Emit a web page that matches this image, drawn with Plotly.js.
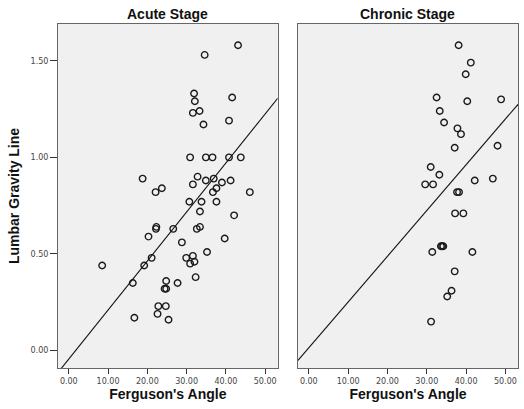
<!DOCTYPE html>
<html>
<head>
<meta charset="utf-8">
<script src="https://cdn.plot.ly/plotly-3.0.1.min.js"></script>
<style>html,body{margin:0;padding:0;background:#fff;}#chart{width:524px;height:409px;}</style>
</head>
<body>
<div id="chart"></div>
<script>
// Acute stage: Ferguson's angle (x) vs lumbar gravity line (y)
var acuteAngle = [43.1,34.6,31.9,32.1,41.6,31.6,33.3,34.3,40.8,30.9,34.9,36.6,40.8,43.8,18.8,32.8,31.6,34.9,36.9,39.0,41.2,22.1,23.7,46.1,37.6,36.7,30.7,33.8,37.6,33.4,42.1,22.3,22.2,26.6,32.6,33.4,20.3,28.8,39.7,35.2,21.1,29.9,31.6,30.9,32.0,8.5,19.2,32.3,16.3,24.8,27.7,24.4,24.8,22.8,24.7,22.6,16.7,25.4];
var acuteLGL   = [1.58,1.53,1.33,1.29,1.31,1.23,1.24,1.17,1.19,1.00,1.00,1.00,1.00,1.00,0.89,0.90,0.86,0.88,0.89,0.87,0.88,0.82,0.84,0.82,0.84,0.82,0.77,0.77,0.77,0.72,0.70,0.64,0.63,0.63,0.63,0.64,0.59,0.56,0.58,0.51,0.48,0.48,0.49,0.45,0.46,0.44,0.44,0.38,0.35,0.36,0.35,0.32,0.32,0.23,0.23,0.19,0.17,0.16];
// Chronic stage
var chronicAngle = [38.1,41.2,39.9,32.5,40.3,48.9,33.3,34.4,37.8,38.7,37.1,48.0,31.0,33.2,29.6,31.6,42.2,46.8,37.7,38.2,37.2,39.3,33.6,33.9,34.2,31.4,41.6,37.1,36.3,35.2,31.1];
var chronicLGL   = [1.58,1.49,1.43,1.31,1.29,1.30,1.24,1.18,1.15,1.12,1.05,1.06,0.95,0.91,0.86,0.86,0.88,0.89,0.82,0.82,0.71,0.71,0.54,0.54,0.54,0.51,0.51,0.41,0.31,0.28,0.15];
// Fit lines
var acuteIntercept = -0.0436, acuteSlope = 0.02536;
var chronicIntercept = 0.0143, chronicSlope = 0.02368;
var xTicks = [0,10,20,30,40,50];
var xTickText = ["0.00","10.00","20.00","30.00","40.00","50.00"];
var yTicks = [0,0.5,1.0,1.5];
var yTickText = ["0.00","0.50","1.00","1.50"];
var panelTitles = ["Acute Stage","Chronic Stage"];
var xTitle = "Ferguson's Angle";
var yTitle = "Lumbar Gravity Line";
var xRange = [-2.75, 53.2];
var yRange = [-0.09, 1.69];

function fitLine(a, b) {
  return {x: [xRange[0], xRange[1]], y: [a + b*xRange[0], a + b*xRange[1]]};
}
var la = fitLine(acuteIntercept, acuteSlope);
var lc = fitLine(chronicIntercept, chronicSlope);

var markerStyle = {symbol: 'circle-open', size: 6.5, color: '#1a1a1a', line: {width: 1.4, color: '#1a1a1a'}};
var traces = [
  {x: acuteAngle, y: acuteLGL, type: 'scatter', mode: 'markers', marker: markerStyle, xaxis: 'x', yaxis: 'y', hoverinfo: 'none'},
  {x: la.x, y: la.y, type: 'scatter', mode: 'lines', line: {color: '#111', width: 1.1}, xaxis: 'x', yaxis: 'y', hoverinfo: 'none'},
  {x: chronicAngle, y: chronicLGL, type: 'scatter', mode: 'markers', marker: markerStyle, xaxis: 'x2', yaxis: 'y2', hoverinfo: 'none'},
  {x: lc.x, y: lc.y, type: 'scatter', mode: 'lines', line: {color: '#111', width: 1.1}, xaxis: 'x2', yaxis: 'y2', hoverinfo: 'none'}
];

var tickFont = {family: 'DejaVu Sans, sans-serif', size: 8, color: '#444'};
var titleFont = {family: 'Liberation Sans, Arial, sans-serif', size: 14, color: '#111', weight: 'bold'};
function xAxis(domain) {
  return {domain: domain, range: xRange, tickvals: xTicks, ticktext: xTickText, ticks: 'outside', ticklen: 5,
    tickcolor: '#333', tickfont: tickFont, showgrid: false, zeroline: false, showline: true, mirror: true,
    linecolor: '#666', linewidth: 1, fixedrange: true,
    title: {text: xTitle, font: titleFont, standoff: 1}};
}
var layout = {
  width: 524, height: 409,
  margin: {l: 58, r: 6, t: 24, b: 41},
  paper_bgcolor: '#ffffff', plot_bgcolor: '#f0f0f0',
  showlegend: false,
  xaxis: xAxis([0, 0.4776]),
  xaxis2: xAxis([0.5217, 1]),
  yaxis: {range: yRange, tickvals: yTicks, ticktext: yTickText, ticks: 'outside', ticklen: 7, tickcolor: '#333',
    tickfont: tickFont, showgrid: false, zeroline: false, showline: true, mirror: true, linecolor: '#666', linewidth: 1,
    title: {text: yTitle, font: titleFont, standoff: 7}},
  yaxis2: {range: yRange, anchor: 'x2', showticklabels: false, ticks: '', showgrid: false, zeroline: false,
    showline: true, mirror: true, linecolor: '#666', linewidth: 1},
  annotations: [
    {text: panelTitles[0], xref: 'x domain', yref: 'paper', x: 0.5, y: 1, yanchor: 'bottom', yshift: 0, showarrow: false, font: titleFont},
    {text: panelTitles[1], xref: 'x2 domain', yref: 'paper', x: 0.5, y: 1, yanchor: 'bottom', yshift: 0, showarrow: false, font: titleFont}
  ]
};
layout.yaxis2.anchor = 'x2';
layout.xaxis2.anchor = 'y2';
Plotly.newPlot('chart', traces, layout, {displayModeBar: false, staticPlot: true});
</script>
</body>
</html>
